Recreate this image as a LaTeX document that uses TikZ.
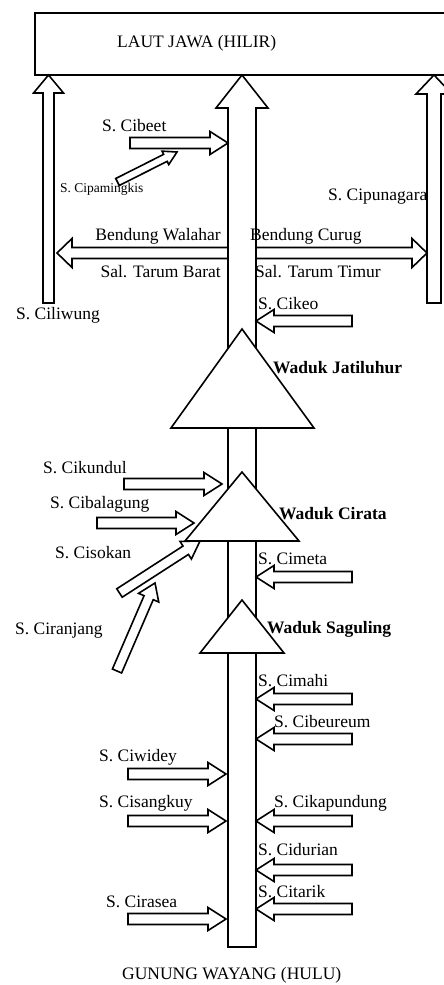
\documentclass[tikz,border=0pt]{standalone}
\usepackage{fontspec}
\setmainfont{Liberation Serif}
\usetikzlibrary{calc}

\newcommand\rivarrow[5]{%
  \coordinate (hb) at ($(#2)!#5!(#1)$);
  \draw[riv] ($(#1)!#3!90:(#2)$) -- ($(hb)!#3!-90:(#1)$) -- ($(hb)!#4!-90:(#1)$) -- (#2)
    -- ($(hb)!#4!90:(#1)$) -- ($(hb)!#3!90:(#1)$) -- ($(#1)!#3!-90:(#2)$) -- cycle;
}

\begin{document}
\begin{tikzpicture}[x=1pt, y=-1pt,
  riv/.style={draw, line width=1.6pt, fill=white, line join=miter},
  dam/.style={draw, line width=1.6pt, fill=white},
  box/.style={draw, line width=1.6pt, minimum width=436pt, minimum height=62pt, inner sep=0pt},
  lbl/.style={anchor=west, inner sep=0pt, font=\fontsize{17.5}{20}\selectfont},
  lbr/.style={lbl, anchor=east},
  lbs/.style={lbl, font=\fontsize{13.5}{15}\selectfont},
  wdk/.style={lbl, font=\fontsize{17.5}{20}\selectfont\bfseries},
]
\useasboundingbox (0,0) rectangle (444,985);

\node[box, anchor=north west] (laut) at (34,12) {};
\node[lbl] (lautlbl) at (117,43) {LAUT JAWA (HILIR)};

\coordinate (hulu) at (242,947);
\coordinate (hilir) at (242,75);
\rivarrow{hulu}{hilir}{14pt}{26pt}{33pt}

\coordinate (ciliwung-s) at (48.5,303);
\coordinate (ciliwung-t) at (48.5,75);
\rivarrow{ciliwung-s}{ciliwung-t}{5.5pt}{15pt}{18pt}
\coordinate (cipunagara-s) at (434,303);
\coordinate (cipunagara-t) at (434,75);
\rivarrow{cipunagara-s}{cipunagara-t}{7pt}{18pt}{19pt}

\draw[dam] (242,329) -- (314,428) -- (171,428) -- cycle;
\draw[dam] (242,472) -- (299,541) -- (185,541) -- cycle;
\draw[dam] (242,600) -- (284,653) -- (200,653) -- cycle;

\coordinate (walahar-s) at (228,253);
\coordinate (walahar-t) at (57,253);
\rivarrow{walahar-s}{walahar-t}{5.5pt}{14.5pt}{15pt}
\coordinate (curug-s) at (256,253);
\coordinate (curug-t) at (427,253);
\rivarrow{curug-s}{curug-t}{5.5pt}{14.5pt}{15pt}

\coordinate (cibeet-s) at (130,143);
\coordinate (cibeet-t) at (228,143);
\rivarrow{cibeet-s}{cibeet-t}{5.5pt}{11.5pt}{18pt}
\coordinate (cipamingkis-s) at (117.5,182);
\coordinate (cipamingkis-t) at (177,152);
\rivarrow{cipamingkis-s}{cipamingkis-t}{3.9pt}{7.5pt}{13pt}

\foreach \nm/\yy in {cikeo/321, cimeta/577, cimahi/699, cibeureum/739,
                     cikapundung/821, cidurian/870, citarik/909} {
  \coordinate (\nm-s) at (352,\yy);
  \coordinate (\nm-t) at (256,\yy);
  \rivarrow{\nm-s}{\nm-t}{5.5pt}{11.5pt}{18pt}
}

\foreach \nm/\xa/\xb/\yy in {cikundul/124/222/484, cibalagung/97/194/523,
                             ciwidey/128/226/774, cisangkuy/128/226/821, cirasea/128/226/919} {
  \coordinate (\nm-s) at (\xa,\yy);
  \coordinate (\nm-t) at (\xb,\yy);
  \rivarrow{\nm-s}{\nm-t}{5.5pt}{11.5pt}{18pt}
}

\coordinate (cisokan-s) at (119.5,593);
\coordinate (cisokan-t) at (200,541);
\rivarrow{cisokan-s}{cisokan-t}{5pt}{10.5pt}{17pt}
\coordinate (ciranjang-s) at (117,671);
\coordinate (ciranjang-t) at (155,583);
\rivarrow{ciranjang-s}{ciranjang-t}{5pt}{11pt}{16pt}

\node[lbl] (cibeetlbl) at (102,126) {S. Cibeet};
\node[lbs] (cipamingkislbl) at (60,189) {S. Cipamingkis};
\node[lbl] (cipunagaralbl) at (328,197) {S. Cipunagara};
\node[lbr] (walaharlbl) at (221,236) {Bendung Walahar};
\node[lbl] (curuglbl) at (250,236) {Bendung Curug};
\node[lbr] (baratlbl) at (221,272) {Sal. Tarum Barat};
\node[lbl] (timurlbl) at (255,272) {Sal. Tarum Timur};
\node[lbl] (ciliwunglbl) at (16,315) {S. Ciliwung};
\node[lbl] (cikeolbl) at (258,304) {S. Cikeo};
\node[wdk] (jatiluhurlbl) at (273,368) {Waduk Jatiluhur};
\node[lbl] (cikundullbl) at (43,468) {S. Cikundul};
\node[lbl] (cibalagunglbl) at (50,504) {S. Cibalagung};
\node[wdk] (ciratalbl) at (279,514) {Waduk Cirata};
\node[lbl] (cisokanlbl) at (55,553) {S. Cisokan};
\node[lbl] (cimetalbl) at (258,559) {S. Cimeta};
\node[wdk] (sagulinglbl) at (267,629) {Waduk Saguling};
\node[lbl] (ciranjanglbl) at (15,631) {S. Ciranjang};
\node[lbl] (cimahilbl) at (258,681) {S. Cimahi};
\node[lbl] (cibeureumlbl) at (274,722) {S. Cibeureum};
\node[lbl] (ciwideylbl) at (99,757) {S. Ciwidey};
\node[lbl] (cisangkuylbl) at (99,803) {S. Cisangkuy};
\node[lbl] (cikapundunglbl) at (274,803) {S. Cikapundung};
\node[lbl] (cidurianlbl) at (258,850) {S. Cidurian};
\node[lbl] (citariklbl) at (258,892) {S. Citarik};
\node[lbl] (cirasealbl) at (106,902) {S. Cirasea};
\node[lbl] (gununglbl) at (122,975) {GUNUNG WAYANG (HULU)};
\end{tikzpicture}
\end{document}
